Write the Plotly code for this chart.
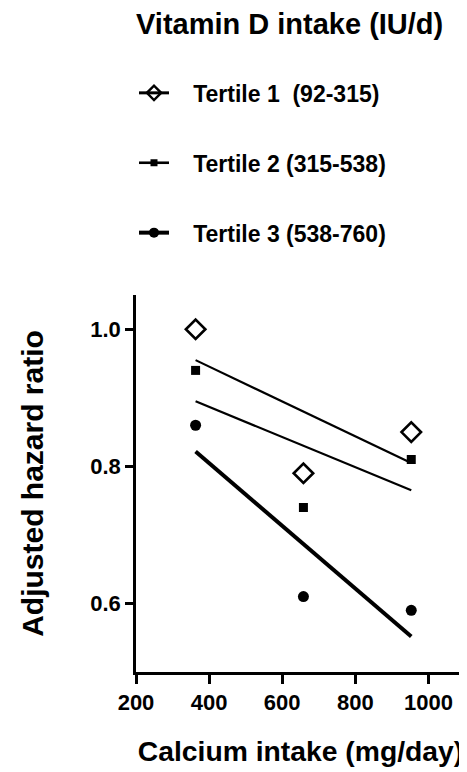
import numpy as np
import plotly.graph_objects as go

# ---- data ----
calcium_intake = [363, 658, 953]  # mg/day (tertile medians of calcium intake)
tertile_names = ["Tertile 1  (92-315)", "Tertile 2 (315-538)", "Tertile 3 (538-760)"]
hr_tertile1 = [1.00, 0.79, 0.85]
hr_tertile2 = [0.94, 0.74, 0.81]
hr_tertile3 = [0.86, 0.61, 0.59]
x_tick_values = [200, 400, 600, 800, 1000]
y_tick_values = [0.6, 0.8, 1.0]
y_tick_labels = ["0.6", "0.8", "1.0"]

series = [hr_tertile1, hr_tertile2, hr_tertile3]

# ---- styles ----
FONT = "Liberation Sans, Arial, Helvetica, sans-serif"
INK = "#000000"
marker_symbols = ["diamond-open", "square", "circle"]
marker_sizes = [15, 9, 11]
legend_marker_sizes = [11, 7, 10]
legend_line_widths = [3, 2.6, 4]
fit_widths = [2.2, 2.2, 4]

# the page body adds an 8px offset; size the figure to the visible area
W, H = 459, 764
ML, MR, MT, MB = 128, 2, 287, 100
plot_w = W - ML - MR
plot_h = H - MT - MB
plot_bottom = H - MB

fig = go.Figure()

for i, (name, hr) in enumerate(zip(tertile_names, series)):
    # observed points
    fig.add_trace(go.Scatter(
        x=calcium_intake, y=hr, mode="markers", showlegend=False,
        legendgroup=str(i), hoverinfo="x+y",
        marker=dict(symbol=marker_symbols[i], size=marker_sizes[i], color=INK,
                    line=dict(width=2.6 if i == 0 else 0, color=INK)),
    ))
    # linear regression line through the tertile's points
    slope, intercept = np.polyfit(calcium_intake, hr, 1)
    xs = [min(calcium_intake), max(calcium_intake)]
    fig.add_trace(go.Scatter(
        x=xs, y=[slope * v + intercept for v in xs], mode="lines",
        showlegend=False, legendgroup=str(i), hoverinfo="skip",
        line=dict(color=INK, width=fit_widths[i]),
    ))
    # legend entry (line + symbol)
    fig.add_trace(go.Scatter(
        x=[None], y=[None], mode="lines+markers", name="   " + name,
        legendgroup=str(i),
        line=dict(color=INK, width=legend_line_widths[i]),
        marker=dict(symbol=marker_symbols[i], size=legend_marker_sizes[i], color=INK,
                    line=dict(width=2.4 if i == 0 else 0, color=INK)),
    ))

fig.update_layout(
    width=W, height=H, autosize=False,
    margin=dict(l=ML, r=MR, t=MT, b=MB, autoexpand=False),
    paper_bgcolor="white", plot_bgcolor="white",
    font=dict(family=FONT, color=INK, size=22, weight="bold"),
    legend=dict(
        xref="paper", yref="paper",
        x=(126 - ML) / plot_w, y=(plot_bottom + 12) / plot_h,
        xanchor="left", yanchor="top",
        font=dict(family=FONT, size=23, color=INK, weight="bold"),
        title=dict(text="Vitamin D intake (IU/d)<br> ",
                   font=dict(family=FONT, size=29, color=INK, weight="bold")),
        tracegroupgap=37, itemwidth=30, bgcolor="rgba(0,0,0,0)",
        traceorder="grouped",
    ),
    xaxis=dict(
        range=[200, 1100], tickmode="array", tickvals=x_tick_values,
        showgrid=False, zeroline=False,
        showline=True, linecolor=INK, linewidth=2.6,
        ticks="outside", ticklen=9, tickwidth=2.6, tickcolor=INK,
        tickfont=dict(family=FONT, size=22, color=INK, weight="bold"),
        title=dict(text="Calcium intake (mg/day)", standoff=27,
                   font=dict(family=FONT, size=28.3, color=INK, weight="bold")),
    ),
    yaxis=dict(
        range=[0.5, 1.05], tickmode="array", tickvals=y_tick_values,
        ticktext=y_tick_labels,
        showgrid=False, zeroline=False,
        showline=True, linecolor=INK, linewidth=2.6,
        ticks="outside", ticklen=8, tickwidth=2.6, tickcolor=INK,
        tickfont=dict(family=FONT, size=22, color=INK, weight="bold"),
        title=dict(text="Adjusted hazard ratio", standoff=38,
                   font=dict(family=FONT, size=30, color=INK, weight="bold")),
    ),
)

fig.write_html("out.html")
